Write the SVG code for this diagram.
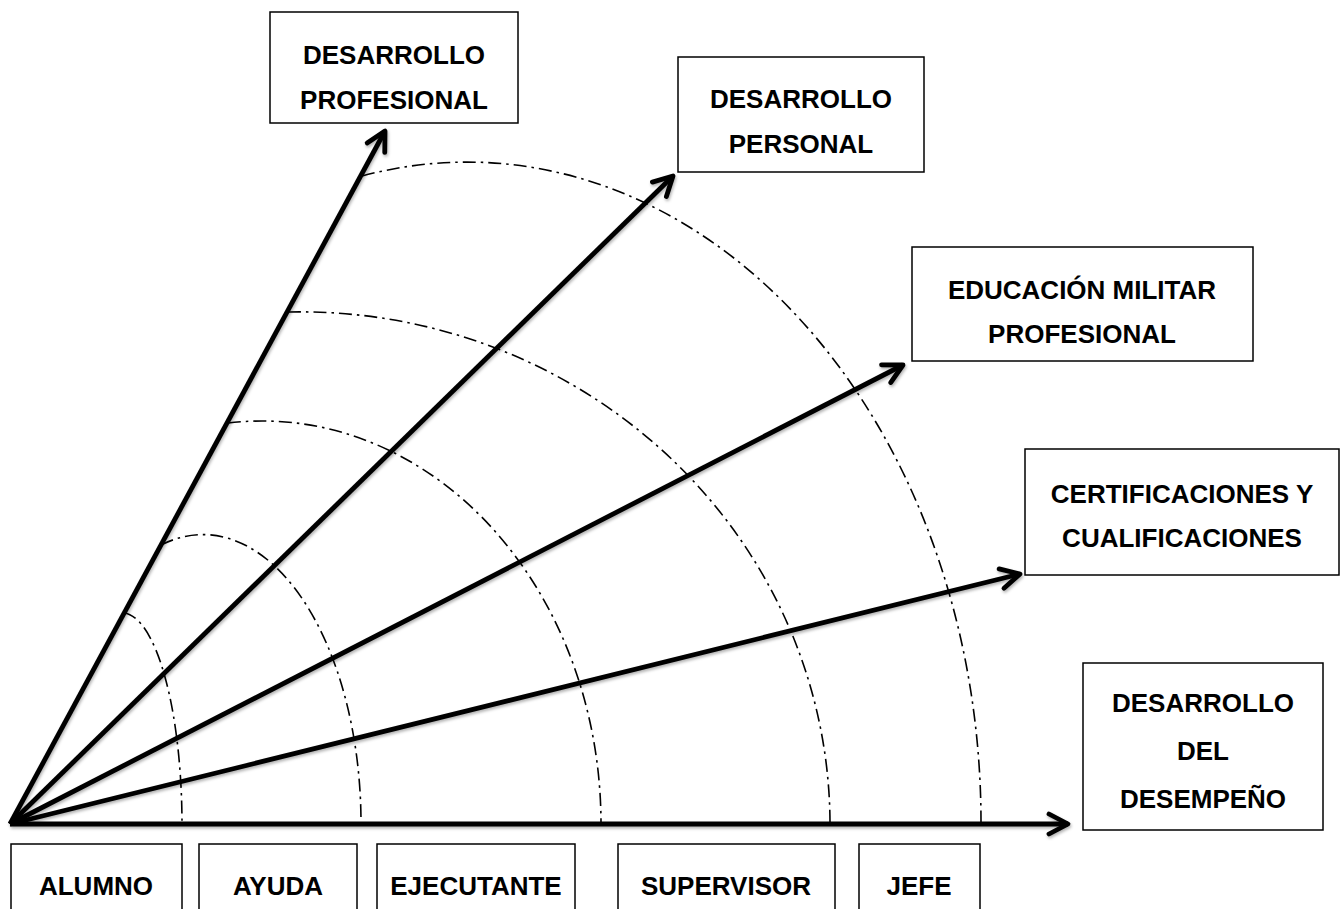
<svg xmlns="http://www.w3.org/2000/svg" width="1341" height="909" viewBox="0 0 1341 909">
<style>
.box{fill:#fff;stroke:#000;stroke-width:1.5}
.t{font-family:"Liberation Sans",Arial,sans-serif;font-weight:bold;font-size:26px;fill:#000;text-anchor:middle}
.arr{stroke:#000;stroke-width:4.8;fill:none;marker-end:url(#ah)}
.arc{stroke:#000;stroke-width:1.6;fill:none;stroke-dasharray:13 5 2.5 5}
</style>
<defs>
<marker id="ah" markerUnits="userSpaceOnUse" viewBox="-26 -16 30 32" markerWidth="30" markerHeight="32" refX="0" refY="0" orient="auto">
<path d="M-19,-10 L0,0 L-19,10" fill="none" stroke="#000" stroke-width="4.8" stroke-linecap="round" stroke-linejoin="round"/>
</marker>
<filter id="sh" filterUnits="userSpaceOnUse" x="0" y="0" width="1341" height="909">
<feDropShadow dx="1" dy="2" stdDeviation="1.5" flood-color="#000" flood-opacity="0.3"/>
</filter>
</defs>
<g id="arcs">
<path class="arc" d="M124,613 A60,212 0 0 1 182,822"/>
<path class="arc" d="M161,545 A158,289 0 0 1 361,822"/>
<path class="arc" d="M228,423 A339,403 0 0 1 601,822"/>
<path class="arc" d="M288,312 A530,513 0 0 1 830,822"/>
<path class="arc" d="M362,176 A514,660 0 0 1 981,822"/>
</g>
<g id="connectors" filter="url(#sh)">
<line class="arr" x1="10" y1="824" x2="385" y2="131"/>
<line class="arr" x1="10" y1="824" x2="673" y2="176"/>
<line class="arr" x1="10" y1="824" x2="903" y2="365"/>
<line class="arr" x1="10" y1="824" x2="1020" y2="574"/>
<line class="arr" x1="10" y1="824" x2="1068" y2="824"/>
</g>
<g id="n-desarrollo-profesional">
<rect class="box" x="270" y="12" width="248" height="111"/>
<text class="t" x="394" y="64">DESARROLLO</text>
<text class="t" x="394" y="109">PROFESIONAL</text>
</g>
<g id="n-desarrollo-personal">
<rect class="box" x="678" y="57" width="246" height="115"/>
<text class="t" x="801" y="108">DESARROLLO</text>
<text class="t" x="801" y="153">PERSONAL</text>
</g>
<g id="n-educacion-militar">
<rect class="box" x="912" y="247" width="341" height="114"/>
<text class="t" x="1082" y="299">EDUCACIÓN MILITAR</text>
<text class="t" x="1082" y="343">PROFESIONAL</text>
</g>
<g id="n-certificaciones">
<rect class="box" x="1025" y="449" width="314" height="126"/>
<text class="t" x="1182" y="503">CERTIFICACIONES Y</text>
<text class="t" x="1182" y="547">CUALIFICACIONES</text>
</g>
<g id="n-desempeno">
<rect class="box" x="1083" y="663" width="240" height="167"/>
<text class="t" x="1203" y="712">DESARROLLO</text>
<text class="t" x="1203" y="760">DEL</text>
<text class="t" x="1203" y="808">DESEMPEÑO</text>
</g>
<g id="n-alumno">
<rect class="box" x="11" y="844" width="171" height="80"/>
<text class="t" x="96" y="895">ALUMNO</text>
</g>
<g id="n-ayuda">
<rect class="box" x="199" y="844" width="158" height="80"/>
<text class="t" x="278" y="895">AYUDA</text>
</g>
<g id="n-ejecutante">
<rect class="box" x="377" y="844" width="198" height="80"/>
<text class="t" x="476" y="895">EJECUTANTE</text>
</g>
<g id="n-supervisor">
<rect class="box" x="618" y="844" width="217" height="80"/>
<text class="t" x="726" y="895">SUPERVISOR</text>
</g>
<g id="n-jefe">
<rect class="box" x="859" y="844" width="121" height="80"/>
<text class="t" x="919" y="895">JEFE</text>
</g>
</svg>
